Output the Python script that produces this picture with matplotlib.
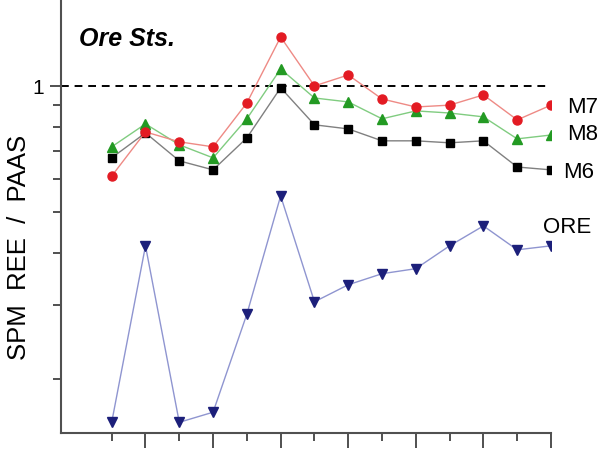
import matplotlib.pyplot as plt
from matplotlib.ticker import FixedLocator, NullFormatter

plt.rcParams['font.family'] = ['Liberation Sans', 'DejaVu Sans']

# REE positions La..Lu (Pm omitted), normalised to PAAS
ree = list(range(14))
m7 = [0.61, 0.777, 0.736, 0.716, 0.911, 1.308, 1.0, 1.062, 0.931, 0.891, 0.90, 0.952, 0.830, 0.90]
m8 = [0.716, 0.812, 0.724, 0.674, 0.835, 1.098, 0.936, 0.916, 0.835, 0.872, 0.862, 0.844, 0.748, 0.764]
m6 = [0.674, 0.773, 0.663, 0.631, 0.752, 0.99, 0.808, 0.790, 0.740, 0.740, 0.732, 0.740, 0.641, 0.631]
ore = [0.158, 0.416, 0.158, 0.167, 0.286, 0.547, 0.306, 0.336, 0.357, 0.367, 0.416, 0.464, 0.407, 0.416]

fig = plt.figure(figsize=(6.02, 4.56), dpi=100)
ax = fig.add_axes([61 / 602, 22 / 456, 490 / 602, 434 / 456])
ax.set_yscale('log')

# series: (values, line colour, marker, marker colour, size, label, label offset in pt)
series = [
    (ore, '#8f95d0', 'v', '#1c1f7a', 7.5, 'ORE', (-6, 14)),
    (m6, '#808080', 's', '#000000', 5.5, 'M6', (8.5, -1)),
    (m8, '#80cc80', '^', '#239a23', 7.5, 'M8', (11.5, 1)),
    (m7, '#ee8a85', 'o', '#e31b23', 6.5, 'M7', (11.5, -1)),
]
for vals, lc, mk, mc, ms, name, off in series:
    ax.plot(ree, vals, color=lc, lw=1.0, marker=mk, ms=ms,
            mfc=mc, mec=mc, zorder=3)
    ax.annotate(name, xy=(ree[-1], vals[-1]), xytext=off,
                textcoords='offset points', ha='left', va='center',
                fontsize=16, annotation_clip=False)

ax.axhline(1.0, xmin=0, xmax=(12.9 + 1.5) / 14.5, color='black',
           lw=1.4, ls=(0, (4, 3)), zorder=2)

ax.set_xlim(-1.5, 13)
ax.set_ylim(0.149, 1.611)

# axes frame: left and bottom only
for s in ['top', 'right']:
    ax.spines[s].set_visible(False)
for s in ['left', 'bottom']:
    ax.spines[s].set_color('#505050')
    ax.spines[s].set_linewidth(1.5)

ax.xaxis.set_major_locator(FixedLocator(ree[1::2]))
ax.xaxis.set_minor_locator(FixedLocator(ree[0::2]))
ax.xaxis.set_major_formatter(NullFormatter())
ax.tick_params(axis='x', which='major', length=11, width=1.4, color='#505050')
ax.tick_params(axis='x', which='minor', length=6, width=1.4, color='#505050')

ax.yaxis.set_major_locator(FixedLocator([1]))
ax.yaxis.set_minor_locator(FixedLocator([0.2, 0.3, 0.4, 0.5, 0.6, 0.7, 0.8, 0.9]))
ax.yaxis.set_minor_formatter(NullFormatter())
ax.set_yticklabels(['1'])
ax.tick_params(axis='y', which='major', length=8, width=1.4, color='#505050',
               labelsize=15, pad=4)
ax.tick_params(axis='y', which='minor', length=6, width=1.4, color='#505050')

ax.set_ylabel('SPM  REE  /  PAAS', fontsize=18.5)
ax.yaxis.set_label_coords(-0.062, 0.43)

ax.text(0.037, 0.895, 'Ore Sts.', transform=ax.transAxes, fontsize=18,
        fontweight='bold', fontstyle='italic', ha='left', va='baseline')

fig.savefig('out.png', dpi=100, facecolor='white')
